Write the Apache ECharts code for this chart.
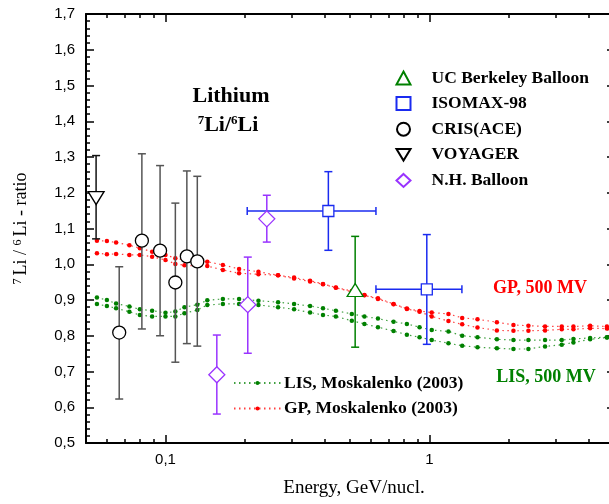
<!DOCTYPE html>
<html>
<head>
<meta charset="utf-8">
<script src="https://cdn.jsdelivr.net/npm/echarts@6/dist/echarts.min.js"></script>
<style>
  html, body { margin: 0; padding: 0; background: #fff; }
  #main { width: 609px; height: 504px; }
</style>
</head>
<body>
<div id="main"></div>
<script>
// model curves (Moskalenko 2003), energies in GeV/nucl.
var energyGrid = [0.055, 0.06, 0.065, 0.073, 0.08, 0.089, 0.1, 0.109, 0.118, 0.132, 0.144, 0.165, 0.19, 0.225, 0.267, 0.307, 0.353, 0.395, 0.442, 0.508, 0.567, 0.638, 0.731, 0.821, 0.917, 1.02, 1.18, 1.33, 1.52, 1.8, 2.08, 2.37, 2.74, 3.17, 3.51, 4.06, 4.7];
var gpUpper = [1.066, 1.065, 1.061, 1.053, 1.045, 1.035, 1.026, 1.017, 1.012, 1.007, 1.007, 0.998, 0.987, 0.979, 0.969, 0.963, 0.954, 0.945, 0.935, 0.925, 0.914, 0.905, 0.889, 0.876, 0.869, 0.865, 0.861, 0.850, 0.846, 0.838, 0.830, 0.828, 0.826, 0.826, 0.826, 0.828, 0.826];
var gpLower = [1.031, 1.028, 1.029, 1.026, 1.026, 1.021, 1.012, 1.001, 0.997, 0.995, 0.995, 0.984, 0.975, 0.972, 0.969, 0.960, 0.952, 0.944, 0.934, 0.923, 0.913, 0.903, 0.888, 0.875, 0.867, 0.854, 0.841, 0.832, 0.823, 0.815, 0.814, 0.814, 0.815, 0.818, 0.818, 0.821, 0.820];
var lisUpper = [0.907, 0.900, 0.890, 0.882, 0.874, 0.870, 0.864, 0.868, 0.880, 0.887, 0.899, 0.903, 0.903, 0.898, 0.894, 0.889, 0.883, 0.877, 0.870, 0.861, 0.854, 0.848, 0.839, 0.833, 0.824, 0.816, 0.812, 0.800, 0.796, 0.790, 0.788, 0.788, 0.788, 0.788, 0.791, 0.794, 0.796];
var lisLower = [0.889, 0.883, 0.877, 0.867, 0.858, 0.854, 0.854, 0.854, 0.863, 0.872, 0.886, 0.889, 0.889, 0.886, 0.880, 0.874, 0.865, 0.858, 0.854, 0.842, 0.833, 0.824, 0.813, 0.803, 0.796, 0.788, 0.779, 0.772, 0.768, 0.765, 0.763, 0.763, 0.770, 0.775, 0.781, 0.790, 0.795];

// measurements
var ucbE = [0.523];
var ucbV = [0.928];
var ucbLo = [0.768];
var ucbHi = [1.078];

var isoE = [0.414, 0.977];
var isoV = [1.149, 0.930];
var isoLo = [1.039, 0.776];
var isoHi = [1.259, 1.083];
var isoELo = [0.204, 0.627];
var isoEHi = [0.627, 1.327];

var crisE = [0.0668, 0.0814, 0.0954, 0.109, 0.1205, 0.132];
var crisV = [0.809, 1.066, 1.038, 0.949, 1.022, 1.008];
var crisLo = [0.623, 0.819, 0.800, 0.726, 0.778, 0.771];
var crisHi = [0.993, 1.309, 1.276, 1.171, 1.261, 1.246];

var voyE = [0.0546];
var voyV = [1.185];
var voyLo = [1.071];
var voyHi = [1.304];

var nhE = [0.1565, 0.205, 0.242];
var nhV = [0.691, 0.887, 1.127];
var nhLo = [0.581, 0.751, 1.062];
var nhHi = [0.802, 1.020, 1.193];

// tick positions
var xMajorTicks = [0.1, 1];
var xMinorTicks = [0.06, 0.07, 0.08, 0.09, 0.2, 0.3, 0.4, 0.5, 0.6, 0.7, 0.8, 0.9, 2, 3, 4];
var xLabels = [0.1, 1];

var serif = '"Liberation Serif", "Times New Roman", serif';
var sans = '"Liberation Sans", Arial, sans-serif';

function pairs(xs, ys) {
  return xs.map(function (x, i) { return [x, ys[i]]; });
}

function curve(name, ys, color) {
  return {
    type: 'line', name: name, data: pairs(energyGrid, ys), z: 2,
    symbol: 'circle', symbolSize: 4.5, showSymbol: true,
    itemStyle: { color: color },
    lineStyle: { color: color, width: 1.2, type: [1.5, 3.5], opacity: 0.75 },
    silent: true, animation: false
  };
}

// error bars, vertical always, horizontal when the energy range is given
function bars(name, color, xs, ys, lo, hi, xlo, xhi, width) {
  var rows = xs.map(function (x, i) {
    return [x, ys[i], lo[i], hi[i], xlo ? xlo[i] : x, xhi ? xhi[i] : x];
  });
  return {
    type: 'custom', name: name, z: 3, silent: true, animation: false,
    encode: { x: 0, y: [2, 3] },
    renderItem: function (params, api) {
      var x = api.value(0), y = api.value(1);
      var top = api.coord([x, api.value(3)]);
      var bot = api.coord([x, api.value(2)]);
      var st = { stroke: color, lineWidth: width };
      var c = 4;
      var kids = [
        { type: 'line', shape: { x1: top[0], y1: top[1], x2: bot[0], y2: bot[1] }, style: st },
        { type: 'line', shape: { x1: top[0] - c, y1: top[1], x2: top[0] + c, y2: top[1] }, style: st },
        { type: 'line', shape: { x1: bot[0] - c, y1: bot[1], x2: bot[0] + c, y2: bot[1] }, style: st }
      ];
      var xl = api.value(4), xh = api.value(5);
      if (xl !== xh) {
        var l = api.coord([xl, y]);
        var r = api.coord([xh, y]);
        kids.push(
          { type: 'line', shape: { x1: l[0], y1: l[1], x2: r[0], y2: r[1] }, style: st },
          { type: 'line', shape: { x1: l[0], y1: l[1] - c, x2: l[0], y2: l[1] + c }, style: st },
          { type: 'line', shape: { x1: r[0], y1: r[1] - c, x2: r[0], y2: r[1] + c }, style: st }
        );
      }
      return { type: 'group', children: kids };
    },
    data: rows
  };
}

function points(name, xs, ys, symbol, size, color, rotate) {
  return {
    type: 'scatter', name: name, data: pairs(xs, ys), z: 5,
    symbol: symbol, symbolSize: size, symbolRotate: rotate || 0,
    itemStyle: { color: '#fff', borderColor: color, borderWidth: 1.3, opacity: 1 },
    silent: true, animation: false
  };
}

function logAxis(pos, ticks, len, showLine, labels) {
  return {
    type: 'log', logBase: 10, min: 0.05, max: 5, position: pos, gridIndex: 0,
    axisLine: { show: showLine, onZero: false, lineStyle: { color: '#000', width: 2 } },
    axisTick: { show: true, inside: true, length: len, customValues: ticks, lineStyle: { color: '#000', width: 1.5 } },
    axisLabel: labels ? {
      show: true, customValues: labels, margin: 9, color: '#000', fontSize: 15, fontFamily: sans,
      formatter: function (v) { return String(v).replace('.', ','); }
    } : { show: false },
    splitLine: { show: false }
  };
}

var xAxes = [
  logAxis('bottom', xMajorTicks, 8, true, xLabels),
  logAxis('bottom', xMinorTicks, 4, false, null),
  logAxis('top', xMajorTicks, 8, true, null),
  logAxis('top', xMinorTicks, 4, false, null)
];
xAxes[0].name = 'Energy, GeV/nucl.';
xAxes[0].nameLocation = 'middle';
xAxes[0].nameGap = 36;
xAxes[0].nameTextStyle = { fontFamily: serif, fontSize: 19, color: '#000', padding: [0, 0, 0, 8] };

var legendText = { fontFamily: serif, fontWeight: 'bold', fontSize: 17.5, color: '#000' };

var chart = echarts.init(document.getElementById('main'), null, { renderer: 'canvas' });
chart.setOption({
  animation: false,
  backgroundColor: '#fff',
  grid: { left: 86, width: 528, top: 14, bottom: 61, outerBoundsMode: 'none', containLabel: false },
  xAxis: xAxes,
  yAxis: [
    {
      type: 'value', min: 0.5, max: 1.7, interval: 0.1, position: 'left',
      name: '{s|7}Li / {s|6}Li - ratio', nameLocation: 'middle', nameGap: 56,
      nameTextStyle: {
        fontFamily: serif, fontSize: 18, color: '#000',
        rich: { s: { fontFamily: serif, fontSize: 12, color: '#000', verticalAlign: 'top', padding: [0, 3, 0, 0] } }
      },
      axisLine: { show: true, onZero: false, lineStyle: { color: '#000', width: 2 } },
      axisTick: { show: true, inside: true, length: 8, lineStyle: { color: '#000', width: 1.5 } },
      minorTick: { show: true, splitNumber: 5, length: 4, lineStyle: { color: '#000', width: 1.5 } },
      axisLabel: {
        color: '#000', fontSize: 15, fontFamily: sans, margin: 11,
        formatter: function (v) { return v.toFixed(1).replace('.', ','); }
      },
      splitLine: { show: false }
    },
    {
      type: 'value', min: 0.5, max: 1.7, interval: 0.1, position: 'right',
      axisLine: { show: true, onZero: false, lineStyle: { color: '#000', width: 2 } },
      axisTick: { show: true, inside: true, length: 7, lineStyle: { color: '#000', width: 1.5 } },
      axisLabel: { show: false },
      splitLine: { show: false }
    }
  ],
  legend: [
    {
      orient: 'vertical', left: 395.5, top: 69, padding: 0,
      itemWidth: 14, itemHeight: 13, itemGap: 7.6, symbolKeepAspect: true,
      selectedMode: false,
      data: [
        'UC Berkeley Balloon', 'ISOMAX-98', 'CRIS(ACE)',
        { name: 'VOYAGER', icon: 'path://M0,0L16,0L8,13Z' },
        'N.H. Balloon'
      ],
      textStyle: Object.assign({ padding: [0, 0, 0, 16] }, legendText)
    },
    {
      orient: 'vertical', left: 233, top: 374, padding: 0,
      itemWidth: 47, itemHeight: 5, itemGap: 7.6,
      selectedMode: false,
      data: ['LIS, Moskalenko (2003)', 'GP, Moskalenko (2003)'],
      textStyle: Object.assign({ padding: [0, 0, 0, -2] }, legendText)
    }
  ],
  graphic: [
    {
      type: 'text', x: 231, y: 96, silent: true,
      style: { text: 'Lithium', font: 'bold 22px ' + serif, fill: '#000', align: 'center', verticalAlign: 'middle' }
    },
    {
      type: 'text', x: 228, y: 125, silent: true,
      style: {
        text: '{s|7}{m|Li/}{s|6}{m|Li}', align: 'center', verticalAlign: 'middle',
        rich: {
          m: { fontFamily: serif, fontWeight: 'bold', fontSize: 22, fill: '#000' },
          s: { fontFamily: serif, fontWeight: 'bold', fontSize: 13, fill: '#000', verticalAlign: 'top' }
        }
      }
    },
    {
      type: 'text', x: 540, y: 288, silent: true,
      style: { text: 'GP, 500 MV', font: 'bold 18px ' + serif, fill: '#ff0000', align: 'center', verticalAlign: 'middle' }
    },
    {
      type: 'text', x: 546, y: 377, silent: true,
      style: { text: 'LIS, 500 MV', font: 'bold 18px ' + serif, fill: '#008000', align: 'center', verticalAlign: 'middle' }
    }
  ],
  series: [
    curve('LIS, Moskalenko (2003)', lisUpper, '#008000'),
    curve('LIS, Moskalenko (2003)', lisLower, '#008000'),
    curve('GP, Moskalenko (2003)', gpUpper, '#ff0000'),
    curve('GP, Moskalenko (2003)', gpLower, '#ff0000'),
    bars('ucb-err', '#008000', ucbE, ucbV, ucbLo, ucbHi, null, null, 1.5),
    bars('iso-err', '#1a2bf0', isoE, isoV, isoLo, isoHi, isoELo, isoEHi, 1.5),
    bars('cris-err', '#555555', crisE, crisV, crisLo, crisHi, null, null, 1.5),
    bars('voy-err', '#111111', voyE, voyV, voyLo, voyHi, null, null, 1.5),
    bars('nh-err', '#9933ff', nhE, nhV, nhLo, nhHi, null, null, 1.5),
    points('UC Berkeley Balloon', ucbE, ucbV, 'triangle', [16, 13], '#008000'),
    points('ISOMAX-98', isoE, isoV, 'rect', 11, '#1a2bf0'),
    points('CRIS(ACE)', crisE, crisV, 'circle', 13, '#000000'),
    points('VOYAGER', voyE, voyV, 'triangle', [16, 13], '#000000', 180),
    points('N.H. Balloon', nhE, nhV, 'diamond', [16, 16], '#9933ff')
  ]
});
</script>
</body>
</html>
